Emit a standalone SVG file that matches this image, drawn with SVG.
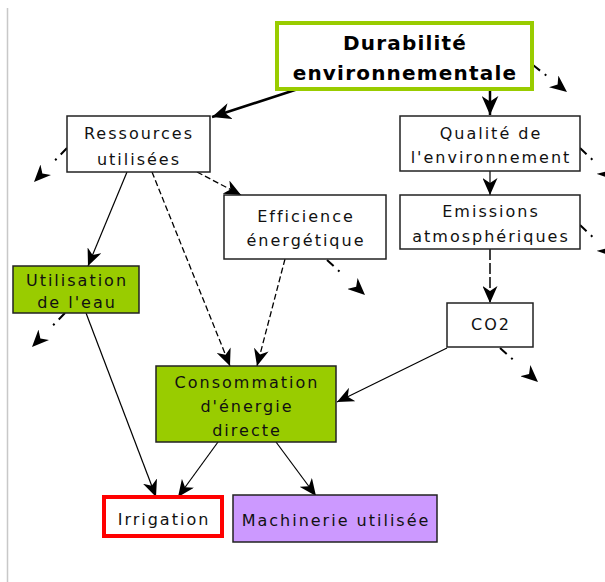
<svg xmlns="http://www.w3.org/2000/svg" width="605" height="582" viewBox="0 0 605 582">
<style>
.t{font-family:"DejaVu Sans",sans-serif;font-size:16px;letter-spacing:2px;fill:#111;text-anchor:middle}
.b{font-family:"DejaVu Sans",sans-serif;font-size:20px;font-weight:bold;letter-spacing:1.2px;fill:#000;text-anchor:middle}
.box{fill:#fff;stroke:#222;stroke-width:1.5}
.green{fill:#99cc00;stroke:#222;stroke-width:1.5}
.solid{fill:none;stroke:#000;stroke-width:1.2}
.thick{fill:none;stroke:#000;stroke-width:2.5}
.dash{fill:none;stroke:#000;stroke-width:1.3;stroke-dasharray:6 3}
.ldash{fill:none;stroke:#000;stroke-width:1.5;stroke-dasharray:11 3}
.dd{fill:none;stroke:#000;stroke-width:2;stroke-dasharray:9 6 2 40}
</style>
<defs>
<marker id="ah" viewBox="0 0 17 15" refX="17" refY="7.5" markerWidth="17" markerHeight="15" orient="auto" markerUnits="userSpaceOnUse">
<path d="M0,0 L17,7.5 L0,15 L5,7.5 z" fill="#000"/>
</marker>
<marker id="ahl" viewBox="0 0 17 15" refX="17" refY="7.5" markerWidth="19" markerHeight="17" orient="auto" markerUnits="userSpaceOnUse">
<path d="M0,0 L17,7.5 L0,15 L5,7.5 z" fill="#000"/>
</marker>
</defs>
<rect width="605" height="582" fill="#fff"/>
<line x1="7.5" y1="8" x2="7.5" y2="582" stroke="#c8c8c8" stroke-width="1.5"/>

<g id="connectors">
<line class="thick" x1="298" y1="89" x2="212" y2="117" marker-end="url(#ahl)"/>
<line class="thick" x1="490" y1="90" x2="490" y2="115" marker-end="url(#ahl)"/>
<line class="dd" x1="533" y1="65" x2="567" y2="92" marker-end="url(#ah)"/>
<line class="solid" x1="490" y1="171" x2="490" y2="195" stroke-width="1.5" marker-end="url(#ah)"/>
<line class="dd" x1="580" y1="148" x2="614" y2="180" marker-end="url(#ah)"/>
<line class="dd" x1="580" y1="225" x2="614" y2="257" marker-end="url(#ah)"/>
<line class="ldash" x1="490" y1="249" x2="490" y2="303" marker-end="url(#ah)"/>
<line class="dd" x1="500" y1="348" x2="538" y2="382" marker-end="url(#ah)"/>
<line class="solid" x1="447" y1="348" x2="337" y2="402" marker-end="url(#ah)"/>
<line class="dd" x1="67" y1="148" x2="34" y2="182" marker-end="url(#ah)"/>
<line class="solid" x1="127" y1="172" x2="88" y2="266" marker-end="url(#ah)"/>
<line class="dash" x1="152" y1="172" x2="230" y2="366" marker-end="url(#ah)"/>
<line class="dash" x1="197" y1="172" x2="241" y2="195" marker-end="url(#ah)"/>
<line class="dash" x1="285" y1="259" x2="257" y2="366" marker-end="url(#ah)"/>
<line class="dd" x1="327" y1="260" x2="365" y2="295" marker-end="url(#ah)"/>
<line class="dd" x1="65" y1="313" x2="32" y2="347" marker-end="url(#ah)"/>
<line class="solid" x1="86" y1="313" x2="156" y2="497" marker-end="url(#ah)"/>
<line class="solid" x1="218" y1="442" x2="178" y2="497" marker-end="url(#ah)"/>
<line class="solid" x1="276" y1="442" x2="316" y2="496" marker-end="url(#ah)"/>
</g>

<g id="durabilite">
<rect x="277" y="23" width="255" height="66" fill="#fff" stroke="#99cc00" stroke-width="4"/>
<text class="b" x="405" y="50">Durabilité</text>
<text class="b" x="405" y="80">environnementale</text>
</g>
<g id="ressources">
<rect class="box" x="67" y="116" width="143" height="56"/>
<text class="t" x="139" y="139">Ressources</text>
<text class="t" x="139" y="165">utilisées</text>
</g>
<g id="qualite">
<rect class="box" x="400" y="116" width="180" height="55"/>
<text class="t" x="491" y="139">Qualité de</text>
<text class="t" x="491" y="163">l'environnement</text>
</g>
<g id="efficience">
<rect class="box" x="224" y="195" width="162" height="64"/>
<text class="t" x="306" y="222">Efficience</text>
<text class="t" x="306" y="246">énergétique</text>
</g>
<g id="emissions">
<rect class="box" x="400" y="195" width="180" height="54"/>
<text class="t" x="491" y="217">Emissions</text>
<text class="t" x="491" y="242">atmosphériques</text>
</g>
<g id="utilisation">
<rect class="green" x="13" y="266" width="126" height="47"/>
<text class="t" x="77" y="286">Utilisation</text>
<text class="t" x="77" y="308">de l'eau</text>
</g>
<g id="co2">
<rect class="box" x="447" y="303" width="86" height="44"/>
<text class="t" x="491" y="330">CO2</text>
</g>
<g id="consommation">
<rect class="green" x="156" y="366" width="180" height="76"/>
<text class="t" x="247" y="388">Consommation</text>
<text class="t" x="247" y="412">d'énergie</text>
<text class="t" x="247" y="436">directe</text>
</g>
<g id="irrigation">
<rect x="104" y="497" width="118" height="39" fill="#fff" stroke="#ff0000" stroke-width="4"/>
<text class="t" x="164" y="525">Irrigation</text>
</g>
<g id="machinerie">
<rect x="233" y="495" width="204" height="47" fill="#cc99ff" stroke="#222" stroke-width="1.5"/>
<text class="t" x="336" y="526">Machinerie utilisée</text>
</g>
</svg>
